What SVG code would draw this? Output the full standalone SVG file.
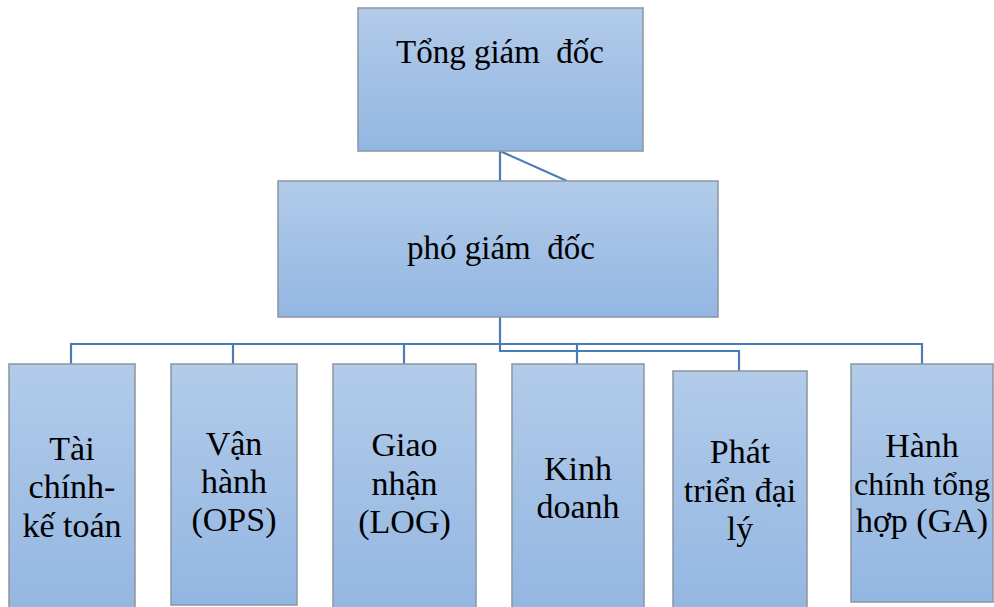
<svg xmlns="http://www.w3.org/2000/svg" width="994" height="607" viewBox="0 0 994 607" font-family="'Liberation Serif', 'DejaVu Serif', serif">
<defs>
<linearGradient id="g" x1="0" y1="0" x2="0" y2="1">
<stop offset="0" stop-color="#b2cbe9"/>
<stop offset="1" stop-color="#93b6e2"/>
</linearGradient>
</defs>
<style>
.box{fill:url(#g);stroke:#8f99a6;stroke-width:1.6}
.t{font-family:'Liberation Serif','DejaVu Serif',serif;font-size:33px;fill:#000;text-anchor:middle}
.s{font-size:34px}
.c{fill:none;stroke:#4a7db5;stroke-width:2.2}
</style>
<rect width="994" height="607" fill="#ffffff"/>
<g id="connectors">
<path class="c" d="M500,151 V181 M500,151 L567,181"/>
<path class="c" d="M500,317 V351 H739 V371"/>
<path class="c" d="M71,364 V344 H922 V364 M233,344 V364 M404,344 V364 M577,344 V364"/>
</g>
<g id="tong-giam-doc">
<rect class="box" x="358" y="8" width="285" height="143"/>
<text class="t" x="500" y="63" xml:space="preserve">Tổng giám  đốc</text>
</g>
<g id="pho-giam-doc">
<rect class="box" x="278" y="181" width="440" height="136"/>
<text class="t" x="501" y="259" xml:space="preserve">phó giám  đốc</text>
</g>
<g id="tai-chinh">
<rect class="box" x="9" y="364" width="126" height="250"/>
<text class="t s" x="72" y="460">Tài</text>
<text class="t s" x="72" y="498">chính-</text>
<text class="t s" x="72" y="537">kế toán</text>
</g>
<g id="van-hanh">
<rect class="box" x="171" y="364" width="126" height="241"/>
<text class="t s" x="234" y="455">Vận</text>
<text class="t s" x="234" y="493">hành</text>
<text class="t s" x="234" y="531">(OPS)</text>
</g>
<g id="giao-nhan">
<rect class="box" x="333" y="364" width="143" height="250"/>
<text class="t s" x="404.5" y="456">Giao</text>
<text class="t s" x="404.5" y="495">nhận</text>
<text class="t s" x="404.5" y="533">(LOG)</text>
</g>
<g id="kinh-doanh">
<rect class="box" x="512" y="364" width="132" height="250"/>
<text class="t s" x="578" y="480">Kinh</text>
<text class="t s" x="578" y="518">doanh</text>
</g>
<g id="phat-trien">
<rect class="box" x="673" y="371" width="134" height="243"/>
<text class="t s" x="740" y="463">Phát</text>
<text class="t s" x="740" y="502">triển đại</text>
<text class="t s" x="740" y="540">lý</text>
</g>
<g id="hanh-chinh">
<rect class="box" x="851" y="364" width="142" height="238"/>
<text class="t s" x="922" y="457">Hành</text>
<text class="t" x="922" y="495" style="font-size:32px">chính tổng</text>
<text class="t s" x="922" y="532">hợp (GA)</text>
</g>
</svg>
